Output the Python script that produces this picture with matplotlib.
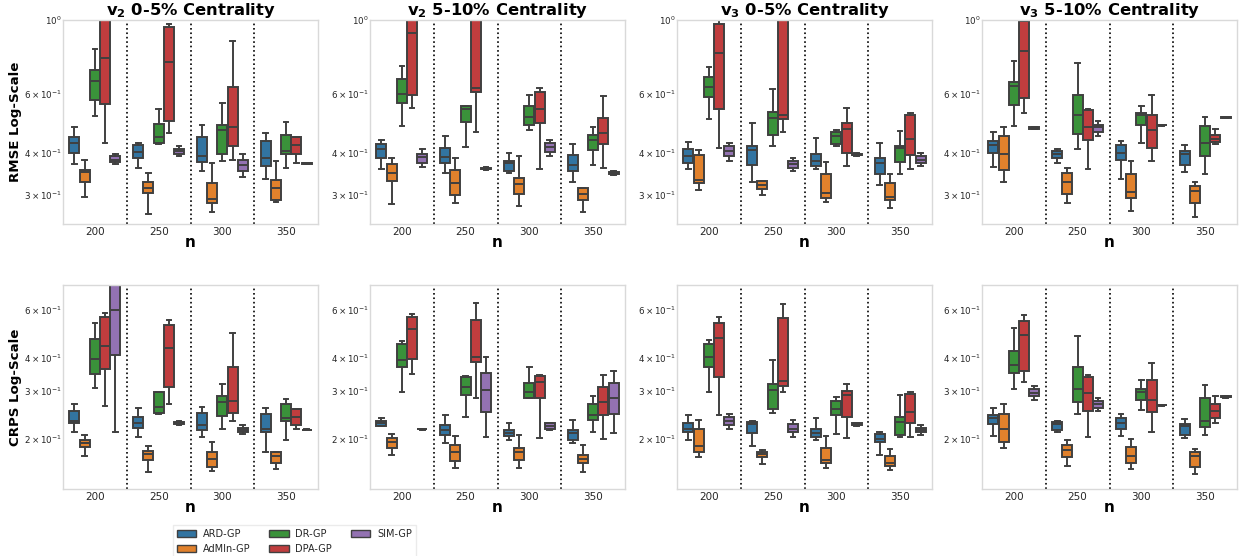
import numpy as np
import matplotlib.pyplot as plt
from matplotlib.patches import Patch

# --- Data ---
N_VALUES = ["200", "250", "300", "350"]
MODELS = ["ARD-GP", "AdMIn-GP", "DR-GP", "DPA-GP", "SIM-GP"]
COLORS = ["#3274a1", "#e1812c", "#3a923a", "#c03d3e", "#9372b2"]
TITLES = [r"$\mathbf{v_2}$ 0-5% Centrality", r"$\mathbf{v_2}$ 5-10% Centrality",
          r"$\mathbf{v_3}$ 0-5% Centrality", r"$\mathbf{v_3}$ 5-10% Centrality"]
ROW_LABELS = ["RMSE Log-Scale", "CRPS Log-Scale"]

# one row per n, one tuple per model: (whislo, q1, median, q3, whishi)
RMSE_V2_0_5 = [
    [(0.370, 0.401, 0.429, 0.447, 0.479), (0.296, 0.327, 0.350, 0.356, 0.380), (0.515, 0.575, 0.656, 0.708, 0.817), (0.427, 0.562, 0.767, 1.05, 1.20), (0.370, 0.376, 0.382, 0.391, 0.396)],
    [(0.361, 0.387, 0.403, 0.421, 0.427), (0.263, 0.304, 0.314, 0.327, 0.348), (0.424, 0.427, 0.447, 0.488, 0.540), (0.459, 0.498, 0.750, 0.955, 0.973), (0.391, 0.396, 0.405, 0.411, 0.419)],
    [(0.353, 0.376, 0.391, 0.445, 0.486), (0.267, 0.284, 0.291, 0.324, 0.372), (0.378, 0.398, 0.468, 0.484, 0.565), (0.382, 0.419, 0.479, 0.628, 0.865), (0.339, 0.352, 0.369, 0.382, 0.396)],
    [(0.333, 0.365, 0.385, 0.434, 0.459), (0.286, 0.290, 0.315, 0.331, 0.378), (0.360, 0.396, 0.405, 0.452, 0.495), (0.372, 0.398, 0.422, 0.445, 0.445), (0.370, 0.371, 0.372, 0.373, 0.374)],
]
RMSE_V2_5_10 = [
    [(0.359, 0.385, 0.410, 0.425, 0.436), (0.282, 0.330, 0.349, 0.370, 0.387), (0.481, 0.566, 0.600, 0.667, 0.729), (0.546, 0.596, 0.912, 1.10, 1.30), (0.363, 0.373, 0.389, 0.398, 0.410)],
    [(0.348, 0.374, 0.389, 0.415, 0.449), (0.283, 0.300, 0.325, 0.355, 0.386), (0.417, 0.495, 0.543, 0.552, 0.552), (0.462, 0.607, 0.627, 1.15, 1.40), (0.356, 0.357, 0.359, 0.361, 0.362)],
    [(0.348, 0.353, 0.372, 0.379, 0.401), (0.278, 0.301, 0.322, 0.336, 0.391), (0.468, 0.484, 0.513, 0.552, 0.596), (0.358, 0.490, 0.541, 0.610, 0.624), (0.391, 0.403, 0.417, 0.427, 0.438)],
    [(0.327, 0.353, 0.369, 0.394, 0.425), (0.267, 0.290, 0.302, 0.315, 0.315), (0.367, 0.409, 0.437, 0.454, 0.479), (0.360, 0.424, 0.460, 0.509, 0.593), (0.344, 0.346, 0.348, 0.350, 0.352)],
]
RMSE_V3_0_5 = [
    [(0.357, 0.374, 0.391, 0.410, 0.432), (0.309, 0.326, 0.331, 0.395, 0.409), (0.505, 0.589, 0.628, 0.673, 0.724), (0.415, 0.543, 0.794, 0.973, 1.00), (0.378, 0.391, 0.405, 0.419, 0.429)],
    [(0.327, 0.368, 0.409, 0.419, 0.493), (0.300, 0.312, 0.321, 0.329, 0.329), (0.419, 0.454, 0.509, 0.531, 0.621), (0.462, 0.504, 0.521, 1.15, 1.40), (0.353, 0.361, 0.370, 0.379, 0.386)],
    [(0.359, 0.365, 0.378, 0.398, 0.443), (0.285, 0.294, 0.304, 0.347, 0.376), (0.419, 0.425, 0.449, 0.461, 0.468), (0.365, 0.400, 0.473, 0.493, 0.546), (0.392, 0.393, 0.395, 0.398, 0.400)],
    [(0.321, 0.347, 0.374, 0.385, 0.427), (0.274, 0.290, 0.295, 0.326, 0.347), (0.347, 0.376, 0.415, 0.419, 0.464), (0.357, 0.394, 0.439, 0.521, 0.527), (0.365, 0.372, 0.382, 0.391, 0.400)],
]
RMSE_V3_5_10 = [
    [(0.363, 0.400, 0.423, 0.434, 0.462), (0.327, 0.355, 0.396, 0.449, 0.479), (0.481, 0.558, 0.635, 0.650, 0.755), (0.528, 0.585, 0.807, 0.995, 1.00), (0.472, 0.473, 0.475, 0.477, 0.478)],
    [(0.372, 0.387, 0.398, 0.405, 0.410), (0.284, 0.302, 0.327, 0.348, 0.361), (0.410, 0.455, 0.521, 0.598, 0.746), (0.357, 0.437, 0.479, 0.537, 0.541), (0.449, 0.461, 0.477, 0.486, 0.499)],
    [(0.335, 0.382, 0.401, 0.422, 0.434), (0.268, 0.293, 0.306, 0.346, 0.377), (0.427, 0.486, 0.518, 0.528, 0.552), (0.379, 0.415, 0.468, 0.521, 0.596), (0.483, 0.484, 0.484, 0.485, 0.486)],
    [(0.351, 0.368, 0.398, 0.405, 0.422), (0.257, 0.284, 0.307, 0.318, 0.327), (0.346, 0.391, 0.427, 0.481, 0.513), (0.424, 0.430, 0.440, 0.452, 0.473), (0.509, 0.510, 0.511, 0.512, 0.513)],
]
CRPS_V2_0_5 = [
    [(0.211, 0.228, 0.233, 0.254, 0.270), (0.173, 0.187, 0.193, 0.198, 0.206), (0.308, 0.349, 0.394, 0.470, 0.539), (0.265, 0.362, 0.441, 0.565, 0.586), (0.212, 0.408, 0.603, 0.80, 0.90)],
    [(0.203, 0.220, 0.228, 0.241, 0.261), (0.150, 0.167, 0.175, 0.180, 0.188), (0.246, 0.250, 0.263, 0.297, 0.297), (0.268, 0.312, 0.435, 0.528, 0.551), (0.224, 0.226, 0.228, 0.231, 0.233)],
    [(0.203, 0.216, 0.224, 0.249, 0.263), (0.152, 0.157, 0.168, 0.178, 0.195), (0.217, 0.243, 0.274, 0.289, 0.318), (0.233, 0.250, 0.275, 0.370, 0.495), (0.208, 0.211, 0.216, 0.220, 0.224)],
    [(0.179, 0.211, 0.217, 0.246, 0.259), (0.154, 0.162, 0.172, 0.178, 0.179), (0.198, 0.233, 0.239, 0.268, 0.281), (0.218, 0.224, 0.240, 0.257, 0.257), (0.215, 0.216, 0.216, 0.216, 0.217)],
]
CRPS_V2_5_10 = [
    [(0.223, 0.223, 0.228, 0.233, 0.238), (0.174, 0.185, 0.195, 0.202, 0.208), (0.298, 0.370, 0.391, 0.448, 0.461), (0.349, 0.396, 0.512, 0.565, 0.581), (0.216, 0.217, 0.217, 0.217, 0.218)],
    [(0.192, 0.207, 0.215, 0.224, 0.244), (0.155, 0.165, 0.178, 0.189, 0.205), (0.240, 0.290, 0.311, 0.339, 0.342), (0.283, 0.385, 0.403, 0.553, 0.639), (0.203, 0.252, 0.303, 0.350, 0.403)],
    [(0.197, 0.204, 0.210, 0.215, 0.229), (0.156, 0.166, 0.178, 0.184, 0.207), (0.284, 0.284, 0.298, 0.323, 0.370), (0.201, 0.283, 0.325, 0.342, 0.344), (0.215, 0.218, 0.223, 0.228, 0.229)],
    [(0.192, 0.198, 0.210, 0.215, 0.234), (0.150, 0.162, 0.168, 0.174, 0.190), (0.212, 0.235, 0.245, 0.269, 0.288), (0.199, 0.244, 0.274, 0.311, 0.344), (0.210, 0.246, 0.284, 0.321, 0.356)],
]
CRPS_V3_0_5 = [
    [(0.198, 0.212, 0.218, 0.229, 0.244), (0.171, 0.178, 0.188, 0.218, 0.234), (0.298, 0.370, 0.403, 0.448, 0.467), (0.244, 0.338, 0.474, 0.539, 0.566), (0.218, 0.225, 0.233, 0.240, 0.246)],
    [(0.188, 0.210, 0.226, 0.231, 0.233), (0.161, 0.171, 0.176, 0.179, 0.181), (0.249, 0.257, 0.303, 0.318, 0.393), (0.298, 0.315, 0.328, 0.562, 0.633), (0.203, 0.211, 0.218, 0.227, 0.235)],
    [(0.198, 0.203, 0.210, 0.218, 0.238), (0.156, 0.162, 0.167, 0.184, 0.205), (0.209, 0.245, 0.258, 0.275, 0.286), (0.201, 0.241, 0.290, 0.302, 0.318), (0.223, 0.224, 0.226, 0.228, 0.229)],
    [(0.174, 0.195, 0.199, 0.209, 0.211), (0.153, 0.158, 0.163, 0.173, 0.183), (0.203, 0.207, 0.231, 0.241, 0.290), (0.203, 0.228, 0.252, 0.294, 0.298), (0.207, 0.211, 0.216, 0.220, 0.225)],
]
CRPS_V3_5_10 = [
    [(0.205, 0.226, 0.238, 0.245, 0.261), (0.184, 0.195, 0.217, 0.248, 0.268), (0.305, 0.350, 0.375, 0.423, 0.517), (0.326, 0.356, 0.487, 0.548, 0.575), (0.278, 0.287, 0.296, 0.307, 0.314)],
    [(0.212, 0.216, 0.226, 0.231, 0.233), (0.158, 0.171, 0.181, 0.190, 0.198), (0.246, 0.273, 0.307, 0.368, 0.483), (0.203, 0.254, 0.296, 0.340, 0.344), (0.253, 0.260, 0.269, 0.275, 0.284)],
    [(0.205, 0.217, 0.228, 0.238, 0.248), (0.154, 0.162, 0.172, 0.187, 0.199), (0.256, 0.279, 0.299, 0.307, 0.330), (0.212, 0.252, 0.278, 0.331, 0.381), (0.265, 0.266, 0.266, 0.266, 0.267)],
    [(0.201, 0.206, 0.223, 0.226, 0.237), (0.148, 0.157, 0.173, 0.179, 0.183), (0.207, 0.221, 0.233, 0.284, 0.316), (0.228, 0.239, 0.254, 0.269, 0.287), (0.284, 0.285, 0.286, 0.287, 0.288)],
]

PANELS = [[RMSE_V2_0_5, RMSE_V2_5_10, RMSE_V3_0_5, RMSE_V3_5_10],
          [CRPS_V2_0_5, CRPS_V2_5_10, CRPS_V3_0_5, CRPS_V3_5_10]]
YLIMS = [(0.245, 1.0), (0.13, 0.745)]

LINE_COLOR = "#404040"
BOX_W = 0.16

plt.rcParams.update({
    "font.family": "DejaVu Sans",
    "axes.edgecolor": "#d9d9d9",
    "text.color": "#262626",
    "xtick.color": "#262626",
    "ytick.color": "#262626",
})

fig = plt.figure(figsize=(12.39, 5.56), dpi=100)
W, H = 1239, 556
lefts = [63, 370, 677, 982]
tops = [20, 285]
ax_w, ax_h = 255, 204

offsets = (np.arange(len(MODELS)) - 2) * BOX_W

for r in range(2):
    for c in range(4):
        ax = fig.add_axes([lefts[c] / W, 1 - (tops[r] + ax_h) / H, ax_w / W, ax_h / H])
        data = PANELS[r][c]
        for m, (model, color) in enumerate(zip(MODELS, COLORS)):
            stats = []
            for g in range(len(N_VALUES)):
                lo, q1, med, q3, hi = data[g][m]
                stats.append(dict(whislo=lo, q1=q1, med=med, q3=q3, whishi=hi, fliers=[]))
            pos = np.arange(len(N_VALUES)) + offsets[m]
            ax.bxp(stats, positions=pos, widths=BOX_W * 0.98, patch_artist=True,
                   showfliers=False, capwidths=BOX_W * 0.45,
                   boxprops=dict(facecolor=color, edgecolor=LINE_COLOR, linewidth=1.4),
                   medianprops=dict(color=LINE_COLOR, linewidth=1.4),
                   whiskerprops=dict(color=LINE_COLOR, linewidth=1.4),
                   capprops=dict(color=LINE_COLOR, linewidth=1.4))

        # dotted separators between the n groups
        for x in [0.5, 1.5, 2.5]:
            ax.axvline(x, color="black", linestyle=":", linewidth=1.2, zorder=0.5)

        ax.set_yscale("log")
        ax.set_ylim(*YLIMS[r])
        ax.set_xlim(-0.5, 3.5)
        ax.set_xticks(range(len(N_VALUES)))
        ax.set_xticklabels(N_VALUES)
        ax.tick_params(axis="x", which="both", length=0, labelsize=7.5, pad=2)
        ax.tick_params(axis="y", which="both", length=0, labelsize=6.3, pad=1)
        ax.set_xlabel("n", fontsize=11, fontweight="bold", labelpad=-1)
        for s in ax.spines.values():
            s.set_linewidth(1.0)
        if r == 0:
            ax.set_title(TITLES[c], fontsize=11.8, fontweight="bold", color="black", pad=2)
        if c == 0:
            ax.set_ylabel(ROW_LABELS[r], fontsize=9.6, fontweight="bold")
            ax.yaxis.set_label_coords(-0.16, 0.5)

handles = [Patch(facecolor=col, edgecolor=LINE_COLOR, linewidth=1.0, label=m)
           for m, col in zip(MODELS, COLORS)]
fig.legend(handles=handles, loc="upper left", bbox_to_anchor=(173 / W, 1 - 525 / H),
           ncol=3, fontsize=7, frameon=True, edgecolor="#e6e6e6", fancybox=False,
           borderaxespad=0, columnspacing=1.9, handlelength=2.0, handletextpad=0.7)

fig.savefig("out.png", dpi=100)
